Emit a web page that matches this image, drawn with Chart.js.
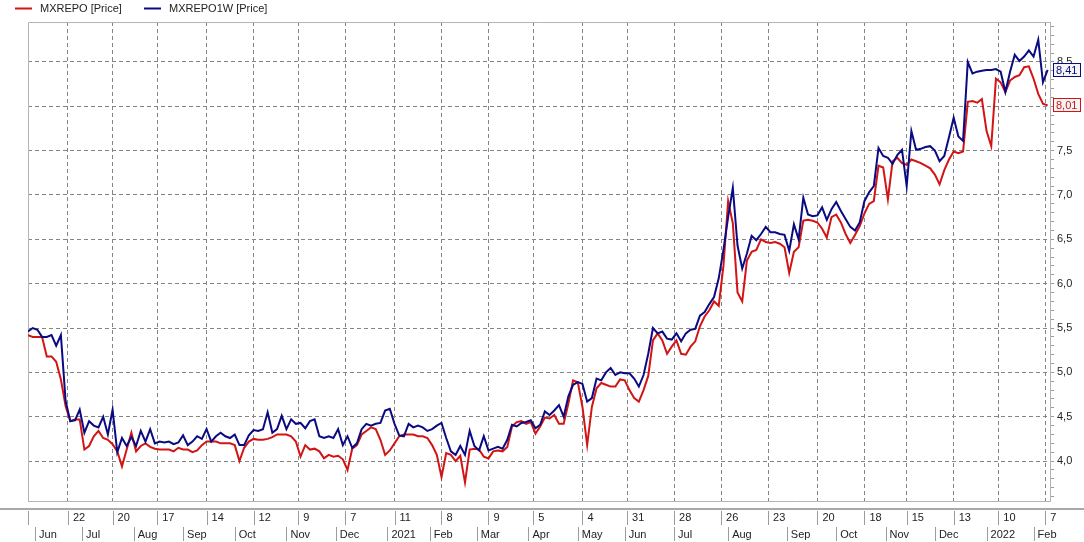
<!DOCTYPE html>
<html>
<head>
<meta charset="utf-8">
<script src="https://cdn.jsdelivr.net/npm/chart.js@4/dist/chart.umd.min.js"></script>
<style>
  html, body { margin: 0; padding: 0; background: #fff; }
  #myChart { display: block; }
</style>
</head>
<body>
<canvas id="myChart" width="1084" height="542"></canvas>
<script>
const seriesNames = ['MXREPO [Price]', 'MXREPO1W [Price]']

// one value every 2 trading sessions, from late May 2020 to early Feb 2022
const sessionStep = 2
const mxrepo = [
  5.42, 5.40, 5.40, 5.40, 5.18, 5.18, 5.12, 4.92, 4.62, 4.45,
  4.47, 4.47, 4.13, 4.17, 4.28, 4.34, 4.26, 4.24, 4.19, 4.11,
  3.94, 4.13, 4.32, 4.11, 4.17, 4.20, 4.16, 4.14, 4.13, 4.13,
  4.13, 4.11, 4.15, 4.13, 4.13, 4.10, 4.12, 4.18, 4.22, 4.22,
  4.22, 4.20, 4.20, 4.20, 4.18, 4.00, 4.15, 4.22, 4.25, 4.24,
  4.24, 4.25, 4.27, 4.30, 4.30, 4.30, 4.28, 4.22, 4.05, 4.18,
  4.13, 4.14, 4.11, 4.03, 4.07, 4.05, 4.06, 4.02, 3.90, 4.14,
  4.18, 4.30, 4.34, 4.38, 4.36, 4.24, 4.07, 4.12, 4.20, 4.28,
  4.30, 4.30, 4.30, 4.28, 4.28, 4.26, 4.18, 4.07, 3.82, 4.09,
  4.07, 4.00, 4.06, 3.76, 4.13, 4.14, 4.13, 4.05, 4.03, 4.11,
  4.12, 4.11, 4.16, 4.39, 4.44, 4.45, 4.42, 4.44, 4.31, 4.39,
  4.49, 4.48, 4.52, 4.42, 4.42, 4.65, 4.91, 4.89, 4.61, 4.18,
  4.61, 4.82, 4.88, 4.86, 4.84, 4.84, 4.92, 4.91, 4.80, 4.71,
  4.67, 4.80, 4.96, 5.36, 5.44, 5.36, 5.21, 5.29, 5.36, 5.21,
  5.20, 5.29, 5.35, 5.52, 5.63, 5.70, 5.80, 5.75, 6.20, 6.93,
  6.68, 5.90, 5.80, 6.26, 6.36, 6.38, 6.50, 6.47, 6.46, 6.47,
  6.45, 6.41, 6.12, 6.36, 6.41, 6.71, 6.72, 6.71, 6.69, 6.62,
  6.52, 6.75, 6.78, 6.69, 6.56, 6.46, 6.55, 6.65, 6.79, 6.90,
  6.93, 7.33, 7.31, 6.95, 7.38, 7.42, 7.36, 7.34, 7.40, 7.38,
  7.36, 7.33, 7.30, 7.23, 7.12, 7.28, 7.40, 7.49, 7.47, 7.49,
  8.05, 8.06, 8.04, 8.08, 7.72, 7.55, 8.31, 8.27, 8.16, 8.29,
  8.33, 8.35, 8.44, 8.45, 8.31, 8.14, 8.03, 8.01
]
const mxrepo1w = [
  5.46, 5.50, 5.48, 5.40, 5.40, 5.42, 5.30, 5.42, 4.68, 4.45,
  4.46, 4.58, 4.32, 4.45, 4.40, 4.38, 4.50, 4.30, 4.58, 4.10,
  4.26, 4.17, 4.27, 4.17, 4.34, 4.22, 4.36, 4.20, 4.22, 4.21,
  4.22, 4.19, 4.21, 4.29, 4.18, 4.22, 4.28, 4.25, 4.36, 4.22,
  4.28, 4.32, 4.28, 4.26, 4.30, 4.18, 4.18, 4.29, 4.35, 4.34,
  4.36, 4.55, 4.32, 4.36, 4.51, 4.36, 4.47, 4.42, 4.43, 4.37,
  4.45, 4.47, 4.28, 4.26, 4.28, 4.26, 4.36, 4.18, 4.28, 4.15,
  4.20, 4.36, 4.42, 4.40, 4.42, 4.43, 4.57, 4.59, 4.42, 4.29,
  4.28, 4.42, 4.38, 4.40, 4.38, 4.34, 4.36, 4.40, 4.43, 4.26,
  4.11, 4.07, 4.17, 4.07, 4.34, 4.17, 4.12, 4.28, 4.12, 4.14,
  4.16, 4.14, 4.24, 4.41, 4.39, 4.43, 4.44, 4.46, 4.37, 4.41,
  4.56, 4.52, 4.57, 4.63, 4.50, 4.73, 4.86, 4.89, 4.87, 4.67,
  4.71, 4.93, 4.91, 5.00, 5.05, 4.97, 5.00, 4.99, 4.99, 4.93,
  4.84, 4.97, 5.21, 5.50, 5.44, 5.46, 5.38, 5.37, 5.44, 5.35,
  5.44, 5.48, 5.49, 5.64, 5.68, 5.77, 5.85, 6.06, 6.38, 6.75,
  7.08, 6.43, 6.17, 6.34, 6.54, 6.49, 6.56, 6.64, 6.58, 6.58,
  6.56, 6.55, 6.37, 6.67, 6.50, 6.97, 6.78, 6.76, 6.77, 6.86,
  6.72, 6.84, 6.92, 6.82, 6.73, 6.64, 6.60, 6.69, 6.93, 7.03,
  7.10, 7.53, 7.44, 7.42, 7.35, 7.45, 7.51, 7.10, 7.72, 7.51,
  7.52, 7.54, 7.55, 7.50, 7.38, 7.44, 7.65, 7.87, 7.66, 7.61,
  8.50, 8.37, 8.39, 8.40, 8.41, 8.41, 8.42, 8.39, 8.16, 8.39,
  8.58, 8.51, 8.56, 8.63, 8.56, 8.75, 8.27, 8.41
]

// session numbers of the vertical grid lines and their day labels
const dayTickAt = [17, 36, 55, 76, 96, 115, 135, 156, 176, 196, 215, 236, 255, 275, 295, 315, 336, 356, 374, 394, 413, 433]
const dayLabels = ['22', '20', '17', '14', '12', '9', '7', '11', '8', '9', '5', '4', '31', '28', '26', '23', '20', '18', '15', '13', '10', '7']
const monthAt = [3, 23, 45, 66, 88, 110, 131, 153, 171, 191, 213, 234, 254, 275, 298, 323, 344, 365, 386, 408, 428]
const monthLabels = ['Jun', 'Jul', 'Aug', 'Sep', 'Oct', 'Nov', 'Dec', '2021', 'Feb', 'Mar', 'Apr', 'May', 'Jun', 'Jul', 'Aug', 'Sep', 'Oct', 'Nov', 'Dec', '2022', 'Feb']
const lastSession = 435
const yMin = 3.55
const yMax = 8.95

const redColor = '#d21414'
const blueColor = '#0a0a82'
const gridColor = '#858585'
const frameColor = '#b4b4b4'
const font = '11px "Liberation Sans", Arial, sans-serif'

const toPoints = values => values.map((v, i) => ({ x: i * sessionStep, y: v }))
const isHalf = v => Math.abs(v * 2 - Math.round(v * 2)) < 1e-6
const fmt = (v, d) => v.toFixed(d).replace('.', ',')

const yTicks = []
for (let t = 36; t <= 89; t++) yTicks.push(t / 10)

const extras = {
  id: 'extras',
  beforeDatasetsDraw(chart) {
    const { ctx, chartArea: a } = chart
    ctx.save()
    ctx.strokeStyle = frameColor
    ctx.lineWidth = 1
    ctx.beginPath()
    ctx.moveTo(a.left + 0.5, a.bottom)
    ctx.lineTo(a.left + 0.5, a.top + 0.5)
    ctx.lineTo(a.right, a.top + 0.5)
    ctx.stroke()
    ctx.restore()
  },
  afterDraw(chart) {
    const { ctx, chartArea: a, scales } = chart
    const x = scales.x
    const y = scales.y
    ctx.save()

    // legend
    ctx.font = font
    ctx.textBaseline = 'middle'
    ctx.lineWidth = 2
    ;[[redColor, 15, 40], [blueColor, 144, 169]].forEach(([c, lx, tx], i) => {
      ctx.strokeStyle = c
      ctx.beginPath()
      ctx.moveTo(lx, 8.5)
      ctx.lineTo(lx + 17, 8.5)
      ctx.stroke()
      ctx.fillStyle = '#222'
      ctx.textAlign = 'left'
      ctx.fillText(seriesNames[i], tx, 8.5)
    })

    // bottom date table
    const top = a.bottom + 7
    ctx.fillStyle = '#a8a8a8'
    ctx.fillRect(0, top, chart.width, 2)
    const row1 = top + 3
    const row2 = top + 18
    ctx.strokeStyle = '#9c9c9c'
    ctx.lineWidth = 1
    ctx.beginPath()
    ctx.moveTo(a.left + 0.5, row1)
    ctx.lineTo(a.left + 0.5, row2 - 1)
    dayTickAt.forEach(s => {
      const px = Math.round(x.getPixelForValue(s)) + 0.5
      ctx.moveTo(px, row1)
      ctx.lineTo(px, row2 - 1)
    })
    monthAt.forEach(s => {
      const px = Math.round(x.getPixelForValue(s)) + 0.5
      ctx.moveTo(px, row2 + 1)
      ctx.lineTo(px, chart.height - 1)
    })
    ctx.stroke()
    ctx.fillStyle = '#222'
    ctx.textAlign = 'left'
    dayTickAt.forEach((s, i) => ctx.fillText(dayLabels[i], x.getPixelForValue(s) + 5, row1 + 7))
    monthAt.forEach((s, i) => ctx.fillText(monthLabels[i], x.getPixelForValue(s) + 4, row2 + 9))

    // last value boxes
    ;[[mxrepo1w, blueColor], [mxrepo, redColor]].forEach(([vals, c]) => {
      const v = vals[vals.length - 1]
      const py = Math.round(y.getPixelForValue(v))
      ctx.fillStyle = '#f4f4f4'
      ctx.fillRect(a.right + 3, py - 7, 28, 14)
      ctx.strokeStyle = c
      ctx.lineWidth = 1
      ctx.strokeRect(a.right + 3.5, py - 6.5, 27, 13)
      ctx.fillStyle = c
      ctx.textAlign = 'left'
      ctx.fillText(fmt(v, 2), a.right + 6, py + 0.5)
    })
    ctx.restore()
  }
}

new Chart(document.getElementById('myChart'), {
  type: 'line',
  data: {
    datasets: [
      { label: seriesNames[0], data: toPoints(mxrepo), borderColor: redColor, borderWidth: 2, pointRadius: 0, tension: 0, order: 2 },
      { label: seriesNames[1], data: toPoints(mxrepo1w), borderColor: blueColor, borderWidth: 2, pointRadius: 0, tension: 0, order: 1 }
    ]
  },
  options: {
    responsive: false,
    animation: false,
    devicePixelRatio: 1,
    layout: { padding: { left: 28, top: 22, right: 0, bottom: 0 } },
    plugins: { legend: { display: false }, tooltip: { enabled: false } },
    scales: {
      x: {
        type: 'linear',
        min: 0,
        max: lastSession,
        afterBuildTicks: s => { s.ticks = dayTickAt.map(v => ({ value: v })) },
        afterFit: s => { s.height = 41 },
        ticks: { display: false },
        grid: { color: gridColor, drawTicks: false },
        border: { display: true, color: frameColor, dash: [4, 3] }
      },
      y: {
        position: 'right',
        min: yMin,
        max: yMax,
        afterBuildTicks: s => { s.ticks = yTicks.map(v => ({ value: v })) },
        afterFit: s => { s.width = 34 },
        ticks: {
          autoSkip: false,
          padding: 3,
          color: '#222',
          font: { family: '"Liberation Sans", Arial, sans-serif', size: 11 },
          callback: v => isHalf(v) && v >= 4 && v <= 8.5 ? fmt(v, 1) : ''
        },
        grid: {
          color: c => c.tick && isHalf(c.tick.value) && c.tick.value >= 4 && c.tick.value <= 8.5 ? gridColor : 'rgba(0,0,0,0)',
          tickColor: '#9a9a9a',
          tickLength: 4
        },
        border: { display: true, color: frameColor, dash: [4, 3] }
      }
    }
  },
  plugins: [extras]
})
</script>
</body>
</html>
